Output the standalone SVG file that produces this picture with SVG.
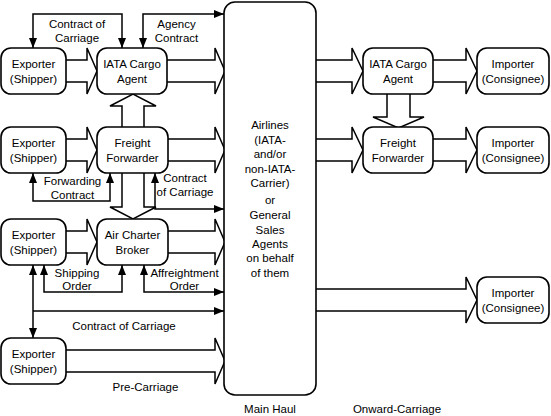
<svg xmlns="http://www.w3.org/2000/svg" width="551" height="416" viewBox="0 0 551 416">
<style>
.box{fill:#fff;stroke:#000;stroke-width:1.6}
.blk{fill:none;stroke:#000;stroke-width:1.5;stroke-linejoin:miter}
.ln{fill:none;stroke:#000;stroke-width:1.5}
text{font-family:"Liberation Sans",Arial,sans-serif;font-size:11.5px;fill:#000;text-anchor:middle}
</style>
<defs>
<marker id="ah" viewBox="0 0 10 8" refX="10" refY="4" markerWidth="10" markerHeight="8" orient="auto-start-reverse" markerUnits="userSpaceOnUse"><path d="M0,0 L10,4 L0,8 z" fill="#000"/></marker>
</defs>
<g id="connectors">
<!-- block arrows -->
<path class="blk" d="M66,60 H87 V48 L97,71 L87,94 V82 H66"/>
<path class="blk" d="M167,60 H215 V48 L225,71 L215,94 V82 H167"/>
<path class="blk" d="M66,139 H87 V127 L97,150 L87,173 V161 H66"/>
<path class="blk" d="M168,139 H215 V127 L225,150 L215,173 V161 H168"/>
<path class="blk" d="M66,231 H87 V219 L97,242 L87,265 V253 H66"/>
<path class="blk" d="M168,231 H215 V219 L225,242 L215,265 V253 H168"/>
<path class="blk" d="M66,350 H215 V338 L225,361 L215,384 V372 H66"/>
<path class="blk" d="M122,127 V106 H110 L133,94 L156,106 H144 V127"/>
<path class="blk" d="M122,173 V207 H110 L133,219 L156,207 H144 V173"/>
<path class="blk" d="M316,60 H352 V48 L363,71 L352,94 V82 H316"/>
<path class="blk" d="M316,139 H352 V127 L363,150 L352,173 V161 H316"/>
<path class="blk" d="M316,289 H466 V277 L477,300 L466,323 V311 H316"/>
<path class="blk" d="M433,60 H466 V48 L477,71 L466,94 V82 H433"/>
<path class="blk" d="M433,139 H466 V127 L477,150 L466,173 V161 H433"/>
<path class="blk" d="M387,94 V117 H373 L398.5,128 L424,117 H410 V94"/>
<!-- thin connectors -->
<path class="ln" d="M33,48 V14 H122 V48" marker-start="url(#ah)" marker-end="url(#ah)"/>
<path class="ln" d="M143,48 V14 H224" marker-start="url(#ah)" marker-end="url(#ah)"/>
<path class="ln" d="M33,173 V201 H110 V173" marker-start="url(#ah)" marker-end="url(#ah)"/>
<path class="ln" d="M155,173 V209 H224" marker-start="url(#ah)" marker-end="url(#ah)"/>
<path class="ln" d="M44,265 V292 H122 V265" marker-start="url(#ah)" marker-end="url(#ah)"/>
<path class="ln" d="M144,265 V292 H224" marker-start="url(#ah)" marker-end="url(#ah)"/>
<path class="ln" d="M33,265 V338" marker-start="url(#ah)" marker-end="url(#ah)"/>
<path class="ln" d="M33,311 H224" marker-end="url(#ah)"/>
<text x="77" y="28">Contract of</text>
<text x="77" y="42">Carriage</text>
<text x="176.5" y="28">Agency</text>
<text x="176.5" y="42">Contract</text>
<text x="72.5" y="185">Forwarding</text>
<text x="72.5" y="198.5">Contract</text>
<text x="185" y="182">Contract</text>
<text x="185" y="196">of Carriage</text>
<text x="77" y="277">Shipping</text>
<text x="77" y="290">Order</text>
<text x="184.5" y="277">Affreightment</text>
<text x="184.5" y="290">Order</text>
<text x="124" y="330">Contract of Carriage</text>
</g>
<g id="exporter1"><rect class="box" x="1" y="48" width="65" height="46" rx="10"/><text x="33.5" y="67.5">Exporter</text><text x="33.5" y="82.5">(Shipper)</text></g>
<g id="exporter2"><rect class="box" x="1" y="127" width="65" height="46" rx="10"/><text x="33.5" y="146.5">Exporter</text><text x="33.5" y="161.5">(Shipper)</text></g>
<g id="exporter3"><rect class="box" x="1" y="219" width="65" height="46" rx="10"/><text x="33.5" y="238.5">Exporter</text><text x="33.5" y="253.5">(Shipper)</text></g>
<g id="exporter4"><rect class="box" x="1" y="338" width="65" height="46" rx="10"/><text x="33.5" y="357.5">Exporter</text><text x="33.5" y="372.5">(Shipper)</text></g>
<g id="iata-left"><rect class="box" x="97" y="48" width="70" height="46" rx="10"/><text x="132" y="67.5">IATA Cargo</text><text x="132" y="82.5">Agent</text></g>
<g id="ff-left"><rect class="box" x="97" y="127" width="71" height="46" rx="10"/><text x="132.5" y="146.5">Freight</text><text x="132.5" y="161.5">Forwarder</text></g>
<g id="acb"><rect class="box" x="97" y="219" width="71" height="46" rx="10"/><text x="132.5" y="238.5">Air Charter</text><text x="132.5" y="253.5">Broker</text></g>
<g id="airlines"><rect class="box" x="224" y="2" width="92" height="393" rx="11"/>
<text x="270" y="129">Airlines</text><text x="270" y="143.5">(IATA-</text><text x="270" y="158">and/or</text><text x="270" y="172.5">non-IATA-</text><text x="270" y="187">Carrier)</text><text x="270" y="204">or</text><text x="270" y="219">General</text><text x="270" y="233.5">Sales</text><text x="270" y="248">Agents</text><text x="270" y="262">on behalf</text><text x="270" y="276.5">of them</text></g>
<g id="iata-right"><rect class="box" x="363" y="48" width="70" height="46" rx="10"/><text x="398" y="67.5">IATA Cargo</text><text x="398" y="82.5">Agent</text></g>
<g id="ff-right"><rect class="box" x="363" y="127" width="70" height="46" rx="10"/><text x="398" y="146.5">Freight</text><text x="398" y="161.5">Forwarder</text></g>
<g id="importer1"><rect class="box" x="477" y="48" width="72" height="46" rx="10"/><text x="513" y="67.5">Importer</text><text x="513" y="82.5">(Consignee)</text></g>
<g id="importer2"><rect class="box" x="477" y="127" width="72" height="46" rx="10"/><text x="513" y="146.5">Importer</text><text x="513" y="161.5">(Consignee)</text></g>
<g id="importer3"><rect class="box" x="477" y="277" width="72" height="46" rx="10"/><text x="513" y="296.5">Importer</text><text x="513" y="311.5">(Consignee)</text></g>
<g id="labels">
<text x="145.5" y="391">Pre-Carriage</text>
<text x="270" y="413">Main Haul</text>
<text x="397" y="413">Onward-Carriage</text>
</g>
</svg>
